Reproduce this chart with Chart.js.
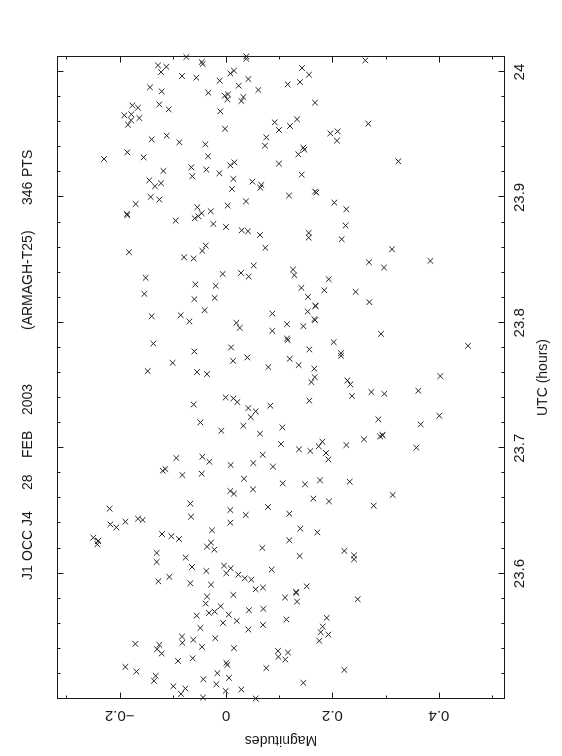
<!DOCTYPE html>
<html><head><meta charset="utf-8">
<script src="https://cdn.jsdelivr.net/npm/chart.js@4.4.1/dist/chart.umd.min.js"></script>
<style>
html,body{margin:0;padding:0;background:#fff;overflow:hidden;width:562px;height:756px;}
#wrap{position:absolute;left:0;top:0;width:756px;height:562px;transform-origin:0 0;transform:translate(0,756px) rotate(-90deg);}
canvas{display:block;}
</style></head><body>
<div id="wrap"><canvas id="c" width="756" height="562"></canvas></div>
<script>
const utcValues = [
24.0120,24.0080,24.0064,24.0125,24.0106,24.0053,24.0042,24.0000,23.9968,23.9955,
23.9931,23.9989,24.0011,23.9891,23.9944,23.9878,23.9846,23.9835,23.9811,23.9822,
23.9782,23.9801,23.9769,23.9857,23.9734,23.9716,23.9742,23.9703,23.9655,23.9663,
23.9633,23.9615,23.9580,23.9687,23.9599,23.9538,23.9548,23.9463,23.9493,23.9440,
23.9424,23.9479,23.9413,23.9360,23.9307,23.9320,23.9328,23.9256,23.9280,23.9270,
23.9240,23.9222,23.9169,23.9193,23.9211,23.9147,23.9126,23.9100,23.9078,23.9137,
23.9089,23.9113,23.9068,23.9004,23.8983,23.8969,23.8948,23.8922,23.8890,23.8874,
23.8850,23.8834,23.8935,23.8869,23.8858,23.8815,23.8789,23.8765,23.8738,23.8730,
23.8701,23.8616,23.8574,23.8598,23.8563,23.8523,23.8513,23.8457,
24.0093,24.0032,23.9979,23.9920,23.9902,23.9756,23.9623,23.9570,23.9511,23.9527,
23.9453,23.9588,23.9397,23.9381,23.9344,23.9288,23.9182,23.9015,23.9047,23.9039,
23.8959,23.8906,23.8776,23.8717,23.8680,23.8667,23.8587,23.8483,23.8441,23.8494,
23.8425,
23.8359,23.8306,23.8295,23.8390,23.8398,23.8369,23.8231,23.8189,23.8199,23.8101,
23.8053,23.8061,23.8011,23.8074,23.8000,23.7960,23.7936,23.7835,23.7772,23.7804,
23.7681,23.7697,23.7724,23.7615,23.7607,23.7591,23.7647,23.7405,23.7397,23.7368,
23.7349,23.7339,23.7320,23.7294,23.7248,23.7206,23.7179,23.7139,23.7116,23.6922,
23.6932,23.6892,23.6948,23.6866,23.6882,23.6853,23.6821,23.6834,23.6786,23.6797,
23.6757,
23.8380,23.8348,23.8279,23.8260,23.8247,23.8207,23.8165,23.8136,23.8090,23.8029,
23.8021,23.7989,23.7973,23.7912,23.7875,23.7862,23.7846,23.7788,23.7758,23.7737,
23.7817,23.7713,23.7663,23.7634,23.7567,23.7527,23.7541,23.7509,23.7575,23.7416,
23.7448,23.7434,23.7458,23.7379,23.7230,23.7190,23.7259,23.7166,23.7033,23.7094,
23.7105,23.7071,23.7025,23.7004,23.6991,23.6978,23.7015,23.7052,23.6962,23.6911,
23.6720,23.6712,23.6744,23.6733,
23.6659,23.6638,23.6672,23.6558,23.6518,23.6507,23.6531,23.6454,23.6468,23.6393,
23.6369,23.6414,23.6438,23.6428,23.6406,23.6345,23.6316,23.6298,23.6276,23.6287,
23.6260,23.6234,23.6247,23.6215,23.6191,23.6205,23.6165,23.6093,23.6128,23.6053,
23.6021,23.6064,23.6043,23.6003,23.5992,23.5963,23.5952,23.6032,23.5974,23.5939,
23.5923,23.5912,23.5875,23.5889,23.5830,23.5817,23.5761,23.5740,23.5697,23.5687,
23.5665,23.5673,23.5708,23.5719,23.5607,23.5623,23.5567,23.5554,23.5591,23.5440,
23.5432,23.5397,23.5363,23.5498,23.5448,23.5472,23.5416,23.5485,23.5405,23.5384,
23.5336,23.5304,23.5325,23.5288,23.5272,23.5256,23.5219,23.5185,23.5145,23.5158,
23.5206,23.5169,23.5246,23.5102,23.5084,23.5041,23.5118,23.5065,23.5076,23.5012,
23.5004,
23.6627,23.6598,23.6576,23.6542,23.6478,23.6359,23.6329,23.6266,23.6181,23.6146,
23.6114,23.6141,23.5899,23.5854,23.5846,23.5809,23.5777,23.5796,23.5634,23.5647,
23.5578,23.5533,23.5514,23.5464,23.5371,23.5315,23.5232,23.5129,
23.8134,23.6262,23.7103
];
const magValues = [
-0.0746,-0.0457,-0.0439,0.0382,0.0382,-0.1278,-0.1122,-0.1222,-0.0827,-0.0558,
-0.0119,0.0081,0.0150,0.0238,0.0420,-0.1429,-0.1209,-0.0332,-0.0025,0.0038,
0.0025,0.0326,0.0288,0.0608,-0.1761,-0.1654,-0.1253,-0.1078,-0.1911,-0.1780,
-0.1629,-0.1786,-0.1842,-0.0107,0.0915,0.0996,-0.0019,-0.1397,-0.1115,-0.0877,
-0.0388,0.0758,0.0733,-0.1855,-0.2293,-0.1548,-0.0338,0.0081,0.0157,0.0996,
-0.0652,-0.0370,-0.0633,-0.0125,-0.1178,0.0138,0.0495,0.0664,0.0645,-0.1441,
-0.1335,-0.1222,0.0113,-0.1416,-0.1253,0.0376,-0.1698,-0.0539,-0.0288,-0.0457,
-0.0520,-0.0589,0.0031,-0.1861,-0.1855,-0.0946,-0.0238,0.0000,0.0294,0.0414,
0.0639,-0.0382,-0.0445,0.0739,-0.1823,-0.0789,-0.0608,0.0520,
0.2619,0.1429,0.1560,0.1391,0.1159,0.1673,0.1335,0.1203,0.1961,0.2099,
0.2086,0.2675,0.1454,0.1472,0.1360,0.3239,0.1422,0.1184,0.1673,0.1698,
0.2036,0.2262,0.2249,0.1554,0.1554,0.2174,0.3120,0.2688,0.2970,0.3841,
0.1259,
-0.1510,-0.0576,-0.0194,-0.0063,0.0282,0.0426,-0.1535,-0.0595,-0.0213,-0.0401,
-0.1397,-0.0852,-0.0689,0.0871,0.0194,0.0257,0.0871,-0.1366,-0.0595,0.0094,
-0.1003,0.0132,0.0401,-0.1472,-0.0545,-0.0357,0.0796,-0.0006,0.0138,0.0213,
-0.0608,0.0833,0.0420,0.0558,0.0464,-0.0482,0.0326,-0.0088,0.0639,-0.0934,
-0.0445,-0.0313,0.0689,0.0088,0.0514,0.0883,-0.1190,-0.1140,-0.0821,-0.0457,
0.0338,
0.1284,0.1930,0.1416,0.1848,0.2437,0.1541,0.2694,0.1679,0.1535,0.1660,
0.1673,0.1147,0.1454,0.2914,0.1147,0.1159,0.2024,0.1566,0.2162,0.2162,
0.4549,0.1197,0.1366,0.1660,0.1667,0.1604,0.2281,0.2337,0.4029,0.2368,
0.2732,0.2976,0.3615,0.1566,0.2863,0.3659,0.4010,0.1059,0.1034,0.2895,
0.2939,0.2594,0.2262,0.3578,0.1372,0.1585,0.1742,0.1811,0.1880,0.1924,
0.1065,0.1485,0.1767,0.2325,
0.0081,0.0150,0.0508,-0.0670,-0.2187,0.0081,0.0789,-0.0658,0.0370,-0.2174,
-0.2061,-0.1892,-0.1654,-0.1566,0.0081,-0.0263,-0.1203,-0.1028,-0.0883,-0.2494,
-0.2406,-0.2419,-0.0282,-0.0357,-0.0219,0.0683,-0.1303,-0.1303,-0.0758,-0.0639,
-0.0370,-0.0038,0.0088,0.0006,0.0232,0.0351,0.0476,0.0858,-0.1065,-0.1272,
-0.0670,-0.0282,0.0558,0.0695,0.0138,-0.0357,-0.0382,-0.0100,-0.0213,-0.0320,
-0.0551,0.0050,0.0432,0.0702,-0.0056,0.0201,-0.0482,0.0420,0.0695,-0.1704,
-0.1253,-0.1297,-0.1209,-0.0827,-0.0821,-0.0614,-0.0451,-0.0201,0.0150,0.0977,
0.0984,-0.0902,-0.0627,0.0006,0.0025,-0.1892,-0.1685,-0.1322,-0.1353,-0.0426,
-0.0163,0.0056,0.0758,-0.0990,-0.0764,-0.0846,-0.0182,-0.0006,0.0288,-0.0432,
0.0558,
0.3133,0.1642,0.1936,0.2776,0.1190,0.1397,0.1717,0.1190,0.2224,0.2406,
0.2406,0.1385,0.1516,0.1316,0.1322,0.1109,0.1335,0.2475,0.1134,0.1892,
0.1817,0.1779,0.1924,0.1754,0.1165,0.1115,0.2224,0.1454,
0.1685,-0.2400,0.2943
];
const utcMajorTicks = [23.6, 23.7, 23.8, 23.9, 24.0];
const utcTickLabels = ['23.6', '23.7', '23.8', '23.9', '24'];
const utcMinorTicks = [23.52,23.54,23.56,23.58,23.62,23.64,23.66,23.68,23.72,23.74,23.76,23.78,23.82,23.84,23.86,23.88,23.92,23.94,23.96,23.98];
const magMajorTicks = [-0.2, 0, 0.2, 0.4];
const magTickLabels = ['\u22120.2', '0', '0.2', '0.4'];
const magMinorTicks = [-0.3, -0.1, 0.1, 0.3, 0.5];
const titleWords = ['J1', 'OCC', 'J4', '28', 'FEB', '2003', '(ARMAGH-T25)', '346', 'PTS'];
const xAxisTitle = 'UTC (hours)';
const yAxisTitle = 'Magnitudes';

const points = utcValues.map((u, i) => ({x: u, y: magValues[i]}));
const FONT = '"Liberation Sans", Arial, Helvetica, sans-serif';
const INK = '#1a1a1a';

const pgBox = {
  id: 'pgBox',
  afterDatasetsDraw(chart) {
    const {ctx, chartArea: a, scales: {x, y}} = chart;
    const L = Math.round(a.left), R = Math.round(a.right), T = Math.round(a.top), B = Math.round(a.bottom);
    ctx.save();
    ctx.strokeStyle = INK; ctx.lineWidth = 1;
    ctx.strokeRect(L + 0.5, T + 0.5, R - L - 1, B - T - 1);
    const majL = 6.5, minL = 3.5;
    ctx.beginPath();
    const xt = (v, len) => { const p = Math.round(x.getPixelForValue(v)) + 0.5;
      ctx.moveTo(p, T); ctx.lineTo(p, T + len); ctx.moveTo(p, B); ctx.lineTo(p, B - len); };
    const yt = (v, len) => { const p = Math.round(y.getPixelForValue(v)) + 0.5;
      ctx.moveTo(L, p); ctx.lineTo(L + len, p); ctx.moveTo(R, p); ctx.lineTo(R - len, p); };
    utcMajorTicks.forEach(v => xt(v, majL));
    utcMinorTicks.forEach(v => xt(v, minL));
    magMajorTicks.forEach(v => yt(v, majL));
    magMinorTicks.forEach(v => yt(v, minL));
    ctx.stroke();

    ctx.fillStyle = INK;
    ctx.textBaseline = 'alphabetic';
    ctx.font = '15px ' + FONT;
    ctx.textAlign = 'center';
    utcMajorTicks.forEach((v, i) => ctx.fillText(utcTickLabels[i], x.getPixelForValue(v), B + 18.5));
    ctx.font = '14px ' + FONT;
    ctx.fillText(xAxisTitle, (L + R) / 2, B + 42);
    ctx.font = '15px ' + FONT;
    magMajorTicks.forEach((v, i) => {
      ctx.save(); ctx.translate(L - 12.5, y.getPixelForValue(v)); ctx.rotate(-Math.PI / 2);
      ctx.fillText(magTickLabels[i], 0, 0); ctx.restore();
    });
    ctx.font = '14px ' + FONT;
    ctx.save(); ctx.translate(L - 37, (T + B) / 2); ctx.rotate(-Math.PI / 2);
    ctx.fillText(yAxisTitle, 0, 0); ctx.restore();
    // title words
    ctx.textAlign = 'left';
    ctx.font = '14px ' + FONT;
    const offs = [119, 138, 173, 209, 241, 284, 369, 494, 522];
    titleWords.forEach((t, i) => ctx.fillText(t, L + offs[i], T - 25));
    ctx.restore();
  }
};

new Chart(document.getElementById('c'), {
  type: 'scatter',
  data: { datasets: [{
    data: points,
    pointStyle: 'crossRot',
    pointRadius: 4,
    pointBorderWidth: 1,
    borderColor: '#222',
    backgroundColor: 'rgba(0,0,0,0)',
    clip: false
  }]},
  options: {
    responsive: false,
    animation: false,
    events: [],
    layout: { padding: { left: 57, right: 56, top: 57, bottom: 57 } },
    plugins: { legend: { display: false }, tooltip: { enabled: false }, title: { display: false } },
    scales: {
      x: { type: 'linear', min: 23.5, max: 24.0128, display: false },
      y: { type: 'linear', min: -0.3177, max: 0.5244, reverse: true, display: false }
    }
  },
  plugins: [pgBox]
});
</script>
</body></html>
